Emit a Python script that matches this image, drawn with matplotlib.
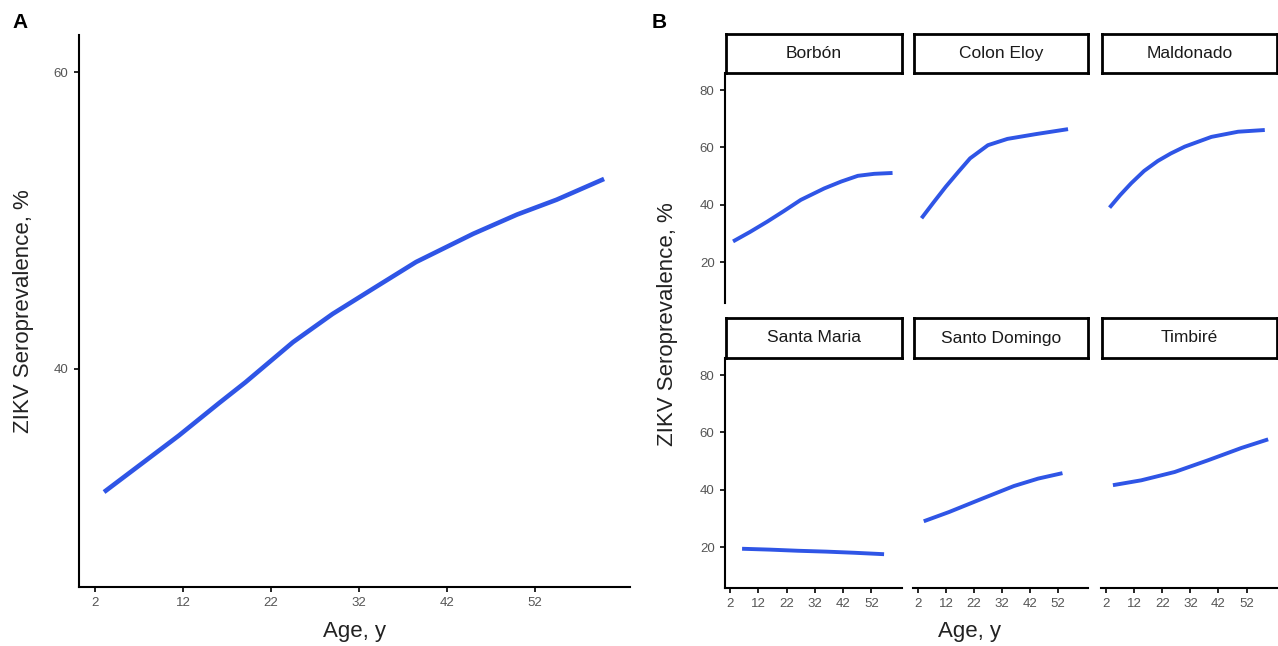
import matplotlib.pyplot as plt

plt.rcParams['font.family'] = ['Liberation Sans', 'DejaVu Sans']

# Panel A: overall seroprevalence by age
age_all = [3.0, 7.7, 11.5, 16.1, 19.1, 24.5, 29.0, 33.6, 38.5, 45.0, 50.0, 54.5, 59.9]
prev_all = [31.7, 33.8, 35.5, 37.7, 39.1, 41.8, 43.7, 45.4, 47.2, 49.1, 50.4, 51.4, 52.8]

# Panel B: by community
communities = ['Borbón', 'Colon Eloy', 'Maldonado',
               'Santa Maria', 'Santo Domingo', 'Timbiré']
age_b = {
    'Borbón': [3.0, 9.0, 15.1, 21.0, 27.0, 35.3, 41.3, 47.2, 53.0, 59.5],
    'Colon Eloy': [3.2, 7.5, 11.9, 16.5, 20.6, 27.0, 34.0, 44.4, 55.7],
    'Maldonado': [3.2, 7.0, 10.9, 15.5, 20.4, 25.0, 30.0, 39.5, 49.0, 58.5],
    'Santa Maria': [6.2, 16.0, 26.0, 36.0, 46.0, 56.5],
    'Santo Domingo': [4.0, 13.0, 24.7, 36.3, 45.0, 53.7],
    'Timbiré': [4.4, 14.5, 26.4, 38.3, 50.2, 59.7],
}
prev_b = {
    'Borbón': [27.2, 30.5, 34.1, 37.8, 41.7, 45.7, 48.1, 50.1, 50.8, 51.1],
    'Colon Eloy': [35.3, 40.8, 46.3, 51.6, 56.2, 60.8, 63.0, 64.7, 66.4],
    'Maldonado': [39.0, 43.4, 47.5, 51.8, 55.3, 57.9, 60.3, 63.7, 65.5, 66.1],
    'Santa Maria': [19.4, 19.1, 18.7, 18.4, 18.0, 17.5],
    'Santo Domingo': [29.0, 32.2, 36.8, 41.3, 43.9, 45.8],
    'Timbiré': [41.6, 43.3, 46.2, 50.3, 54.6, 57.6],
}

x_ticks = [2, 12, 22, 32, 42, 52]
blue = '#2f55e6'
tick_gray = '#555555'
W, H = 1278, 646

fig = plt.figure(figsize=(W / 100, H / 100), dpi=100)


def box(x0, y0, x1, y1):
    # pixel box (top-left origin) -> figure fraction rect
    return [x0 / W, 1 - y1 / H, (x1 - x0) / W, (y1 - y0) / H]


def style(ax, show_x, show_y):
    for s in ['top', 'right']:
        ax.spines[s].set_visible(False)
    ax.spines['left'].set_visible(show_y)
    ax.spines['bottom'].set_visible(show_x)
    for s in ['left', 'bottom']:
        ax.spines[s].set_linewidth(1.5)
    ax.tick_params(length=3.5, width=1.2, labelsize=9.5, labelcolor=tick_gray,
                   pad=4)
    ax.set_xticks(x_ticks)
    if not show_x:
        ax.tick_params(axis='x', bottom=False, labelbottom=False)
    if not show_y:
        ax.tick_params(axis='y', left=False, labelleft=False)


# ---- Panel A ----
axA = fig.add_axes(box(79, 35, 630, 587))
axA.plot(age_all, prev_all, color=blue, lw=3.3, solid_capstyle='butt')
axA.set_xlim(0.15, 62.85)
axA.set_ylim(25.3, 62.5)
axA.set_yticks([40, 60])
style(axA, True, True)
axA.set_xlabel('Age, y', fontsize=16, color='#222222', labelpad=8)
axA.set_ylabel('ZIKV Seroprevalence, %', fontsize=16, color='#222222',
               labelpad=14)
fig.text(12 / W, 1 - 22 / H, 'A', fontsize=15, fontweight='bold', va='center')

# ---- Panel B ----
cols = [(725, 902), (913, 1088), (1101, 1277)]
rows = [((34, 73), (73, 303)), ((318, 358), (358, 588))]
for i, name in enumerate(communities):
    r, c = divmod(i, 3)
    (sy0, sy1), (py0, py1) = rows[r]
    x0, x1 = cols[c]
    ax = fig.add_axes(box(x0, py0, x1, py1))
    ax.plot(age_b[name], prev_b[name], color=blue, lw=2.8,
            solid_capstyle='butt')
    ax.set_xlim(0.15, 62.85)
    ax.set_ylim(5.7, 86)
    ax.set_yticks([20, 40, 60, 80])
    style(ax, r == 1, c == 0)
    # strip label
    sax = fig.add_axes(box(x0 + 1, sy0, x1, sy1))
    sax.set_xticks([])
    sax.set_yticks([])
    for s in sax.spines.values():
        s.set_linewidth(2)
    sax.text(0.5, 0.5, name, ha='center', va='center', fontsize=12.5,
             color='#1a1a1a', transform=sax.transAxes)

fig.text(970 / W, 1 - 632 / H, 'Age, y', fontsize=16, color='#222222',
         ha='center', va='center')
fig.text(668 / W, 1 - 324 / H, 'ZIKV Seroprevalence, %', fontsize=16,
         color='#222222', ha='center', va='center', rotation=90)
fig.text(652 / W, 1 - 22 / H, 'B', fontsize=15, fontweight='bold', va='center')

fig.savefig('out.png', dpi=100)
